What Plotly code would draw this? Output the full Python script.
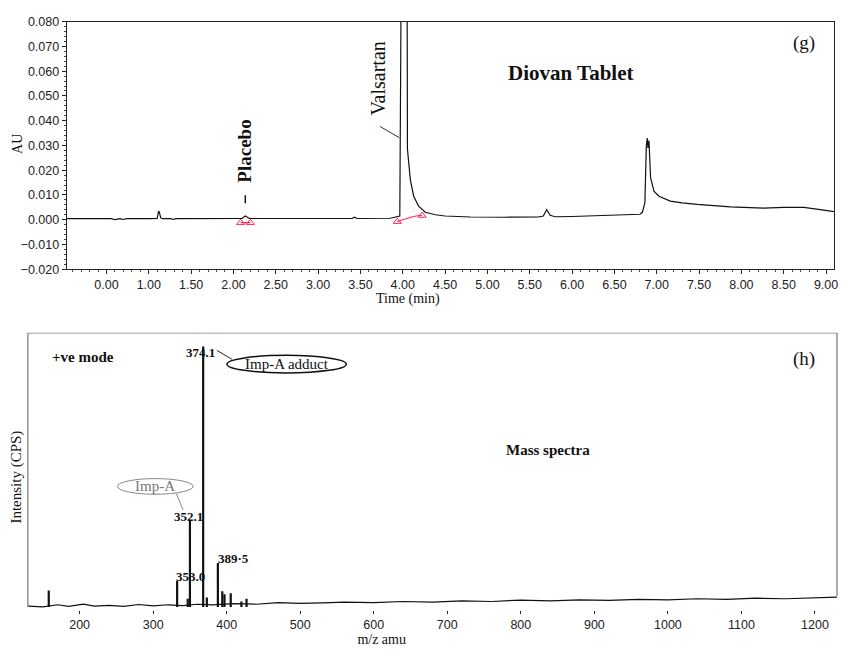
import plotly.graph_objects as go

# ---------------- data: chromatogram (g) ----------------
time_min = [0.03, 0.45, 0.52, 0.56, 0.60, 0.66, 0.70, 0.74, 1.0, 1.10, 1.115, 1.125, 1.14, 1.16,
            1.26, 1.29, 1.32, 1.7, 2.10, 2.14, 2.16, 2.19, 3.0, 3.40, 3.43, 3.46, 3.85, 3.94,
            3.965, 3.985, 4.05, 4.055, 4.07, 4.09, 4.129, 4.187, 4.266, 4.384, 4.5, 4.8,
            5.2, 5.6, 5.66, 5.70, 5.74, 5.80, 6.0, 6.3, 6.80, 6.83, 6.86, 6.877, 6.888, 6.896,
            6.908, 6.927, 6.967, 7.026, 7.1, 7.16, 7.3, 7.48, 7.87, 8.26, 8.5, 8.74, 8.95, 9.094]
au_values = [0.0004, 0.0004, 0.0001, 0.0004, 0.0000, 0.0004, 0.0001, 0.0004, 0.0004, 0.0005,
             0.0035, 0.0030, 0.0008, 0.0004, 0.0004, 0.0001, 0.0004, 0.0004, 0.0005, 0.0015,
             0.0012, 0.0005, 0.0005, 0.0005, 0.0010, 0.0005, 0.0006, 0.0012, 0.0015, 0.1200,
             0.1200, 0.0285, 0.0240, 0.0160, 0.0095, 0.0055, 0.0030, 0.0020, 0.0015, 0.0011,
             0.0010, 0.0011, 0.0015, 0.0040, 0.0018, 0.0012, 0.0013, 0.0017, 0.0022, 0.0030,
             0.0070, 0.0300, 0.0330, 0.0290, 0.0320, 0.0170, 0.0115, 0.0095, 0.0085, 0.0075,
             0.0068, 0.0062, 0.0052, 0.0047, 0.0050, 0.0050, 0.0040, 0.0033]

placebo_marks_t = [2.085, 2.20]
placebo_marks_au = [-0.0012, -0.0012]
valsartan_marks_t = [3.935, 4.06, 4.18, 4.229]
valsartan_marks_au = [-0.0008, 0.0006, 0.0016, 0.0017]

time_tick_labels = ["0.00", "1.00", "1.50", "2.00", "2.50", "3.00", "3.50", "4.00", "4.50",
                    "5.00", "5.50", "6.00", "6.50", "7.00", "7.50", "8.00", "8.50", "9.00"]
au_tick_values = [-0.020, -0.010, 0.000, 0.010, 0.020, 0.030, 0.040, 0.050, 0.060, 0.070, 0.080]

# ---------------- data: mass spectrum (h) ----------------
base_mz = [130, 150, 170, 185, 205, 220, 240, 260, 280, 300, 320, 340, 360, 380, 410, 440, 470,
           500, 530, 560, 600, 640, 680, 720, 760, 800, 840, 880, 920, 960, 1000, 1040, 1080,
           1120, 1160, 1200, 1230]
base_int = [0.3, 0.0, 0.8, 0.2, 1.0, 0.3, 0.6, 0.2, 0.9, 0.4, 0.8, 0.5, 1.0, 0.8, 1.2, 1.0, 1.6,
            1.3, 1.5, 1.8, 1.6, 2.0, 1.8, 2.2, 2.0, 2.5, 2.2, 2.6, 2.4, 2.8, 2.6, 3.0, 2.8, 3.2,
            3.0, 3.4, 3.6]
peak_mz = [158, 332.6, 347, 350, 368, 373, 388, 394, 397, 405.5, 420, 427]
peak_int = [6, 9.5, 3, 31.5, 95, 3.5, 16, 5.7, 4.6, 5, 2, 3]

mz_tick_values = [200, 300, 400, 500, 600, 700, 800, 900, 1000, 1100, 1200]

# ---------------- figure ----------------
W, H = 843, 649
def px(x):
    return x / W
def py(y):
    return 1 - y / H

SERIF = "Liberation Serif"
SANS = "Liberation Sans"

fig = go.Figure()

fig.add_trace(go.Scatter(x=time_min, y=au_values, mode="lines",
                         line=dict(color="#111", width=1.2), xaxis="x", yaxis="y",
                         showlegend=False))
fig.add_trace(go.Scatter(x=placebo_marks_t, y=placebo_marks_au, mode="lines+markers",
                         line=dict(color="#ff2a55", width=1.2),
                         marker=dict(symbol="triangle-up-open", size=7, color="#ff2a55"),
                         xaxis="x", yaxis="y", showlegend=False))
fig.add_trace(go.Scatter(x=valsartan_marks_t, y=valsartan_marks_au, mode="lines",
                         line=dict(color="#ff2a55", width=1.2, shape="spline"),
                         xaxis="x", yaxis="y", showlegend=False))
fig.add_trace(go.Scatter(x=[valsartan_marks_t[0], valsartan_marks_t[-1]],
                         y=[valsartan_marks_au[0], valsartan_marks_au[-1]], mode="markers",
                         marker=dict(symbol="triangle-up-open", size=7, color="#ff2a55"),
                         xaxis="x", yaxis="y", showlegend=False))

# spectrum baseline
fig.add_trace(go.Scatter(x=base_mz, y=base_int, mode="lines",
                         line=dict(color="#111", width=1.2), xaxis="x2", yaxis="y2",
                         showlegend=False))
stick_x, stick_y = [], []
for m, h in zip(peak_mz, peak_int):
    stick_x += [m, m, None]
    stick_y += [0, h, None]
fig.add_trace(go.Scatter(x=stick_x, y=stick_y, mode="lines",
                         line=dict(color="#111", width=2.2), xaxis="x2", yaxis="y2",
                         showlegend=False))

fig.update_layout(
    width=W, height=H, autosize=False,
    margin=dict(l=0, r=0, t=0, b=0),
    paper_bgcolor="white", plot_bgcolor="white",
    xaxis=dict(domain=[px(67), px(838)], range=[0.03, 9.094], anchor="y",
               tickvals=[0.5 + 0.5 * i for i in range(len(time_tick_labels))],
               ticktext=time_tick_labels, ticks="outside", ticklen=4, tickcolor="#222",
               minor=dict(dtick=0.1, ticks="outside", ticklen=2, tickcolor="#444"),
               showline=True, linecolor="#222", linewidth=1, mirror=True,
               showgrid=False, zeroline=False,
               tickfont=dict(family=SANS, size=12.5, color="#222")),
    yaxis=dict(domain=[py(268), py(15)], range=[-0.020, 0.080], anchor="x",
               tickvals=au_tick_values, tickformat=".3f", ticks="outside", ticklen=4,
               tickcolor="#222",
               minor=dict(dtick=0.002, ticks="outside", ticklen=2, tickcolor="#444"),
               showline=True, linecolor="#222", linewidth=1, mirror=True,
               showgrid=False, zeroline=False,
               tickfont=dict(family=SANS, size=12.5, color="#222")),
    xaxis2=dict(domain=[px(28), px(841)], range=[129.6, 1230], anchor="y2",
                tickvals=mz_tick_values, ticks="outside", ticklen=3, tickcolor="#222",
                showline=False, showgrid=False, zeroline=False,
                tickfont=dict(family=SANS, size=12.5, color="#222"),
                title=dict(text="m/z amu" + "&nbsp;" * 29, standoff=2,
                           font=dict(family=SERIF, size=14, color="#111"))),
    yaxis2=dict(domain=[py(616), py(333)], range=[-1.0, 100], anchor="x2",
                showticklabels=False, ticks="", showline=False, showgrid=False,
                zeroline=False),
)

shapes = [
    # bottom panel frame (left, top, right)
    dict(type="line", xref="x2 domain", yref="y2", x0=0, x1=0, y0=0, y1=100,
         line=dict(color="#777", width=1.2)),
    dict(type="line", xref="x2 domain", yref="y2", x0=0, x1=1, y0=100, y1=100,
         line=dict(color="#777", width=1.2)),
    dict(type="line", xref="x2 domain", yref="y2", x0=1, x1=1, y0=4, y1=100,
         line=dict(color="#777", width=1.2)),
    # leader lines top
    dict(type="line", xref="x", yref="y", x0=2.14, x1=2.14, y0=0.0099, y1=0.0067,
         line=dict(color="#111", width=1.5)),
    dict(type="line", xref="x", yref="y", x0=3.73, x1=3.96, y0=0.0377, y1=0.0331,
         line=dict(color="#333", width=1)),
    # leader lines bottom
    dict(type="line", xref="paper", yref="paper", x0=px(218), x1=px(233), y0=py(351), y1=py(360),
         line=dict(color="#222", width=1)),
    dict(type="line", xref="paper", yref="paper", x0=px(177), x1=px(184), y0=py(497), y1=py(514),
         line=dict(color="#888", width=1)),
    # ellipses
    dict(type="circle", xref="paper", yref="paper", x0=px(228), x1=px(348), y0=py(374), y1=py(356),
         line=dict(color="#111", width=1.5)),
    dict(type="circle", xref="paper", yref="paper", x0=px(118), x1=px(194), y0=py(498), y1=py(482),
         line=dict(color="#888", width=1)),
]
fig.update_layout(shapes=shapes)

def ann(text, x, y, size, family=SERIF, color="#111", angle=0, bold=False):
    if bold:
        text = "<b>" + text + "</b>"
    return dict(text=text, x=px(x), y=py(y), xref="paper", yref="paper", showarrow=False,
                xanchor="center", yanchor="middle", textangle=angle, borderpad=0,
                font=dict(family=family, size=size, color=color))

annotations = [
    ann("Placebo", 246, 147, 19, angle=-90, bold=True),
    ann("Valsartan", 380, 73, 20, angle=-90),
    ann("Diovan Tablet", 573, 67, 21, bold=True),
    ann("(g)", 808, 37, 19),
    ann("AU", 18, 140, 14, angle=-90),
    ann("Time (min)", 410, 298, 14),
    ann("+ve mode", 83, 358, 15, bold=True),
    ann("374.1", 201, 353, 13, bold=True),
    ann("Imp-A adduct", 288, 365, 15),
    ann("Imp-A", 156, 490, 15, color="#777"),
    ann("352.1", 189, 521, 13, bold=True),
    ann("389·5", 235, 564, 13, bold=True),
    ann("353.0", 191, 582, 13, bold=True),
    ann("Mass spectra", 551, 453, 15, bold=True),
    ann("(h)", 808, 360, 19),
    ann("Intensity (CPS)", 17, 480, 15, angle=-90),
]
fig.update_layout(annotations=annotations)

fig.write_html("out.html", config={"displayModeBar": False},
               post_script="document.body.style.margin='0';document.body.style.overflow='hidden';")
